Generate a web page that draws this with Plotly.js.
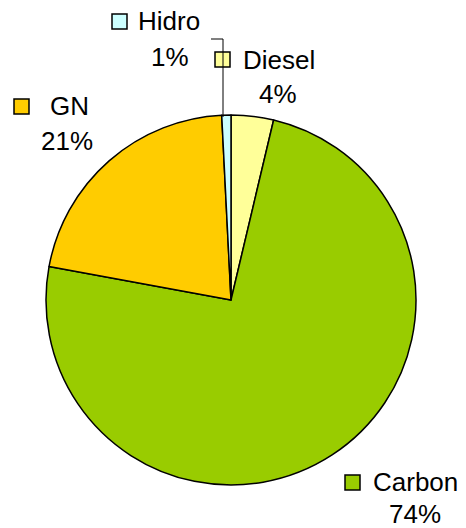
<!DOCTYPE html>
<html><head><meta charset="utf-8">
<script src="https://cdn.plot.ly/plotly-3.0.1.min.js"></script>
<style>html,body{margin:0;padding:0;background:#fff}#chart{width:466px;height:528px}</style>
</head><body><div id="chart"></div>
<script>
var categories = ["Diesel", "Carbon", "GN", "Hidro"];
var values = [3.7, 74.2, 21.3, 0.8];
var colors = ["#FFFF99", "#99CC00", "#FFCC00", "#CCFFFF"];

var W = 466, H = 528;
function px(x){return x / W;}
function py(y){return 1 - y / H;}
var total = values.reduce(function(a,b){return a+b;},0);
function pct(i){return Math.round(values[i] / total * 100) + "%";}

// label layout (pixel positions): square box, name, percent
var labelPos = {
  "Hidro":  {sq:[112,14], name:[136,21], pc:[170,57]},
  "Diesel": {sq:[215,52], name:[241,60], pc:[278,94]},
  "GN":     {sq:[14,99],  name:[48,106], pc:[67,141]},
  "Carbon": {sq:[345,475],name:[371,482],pc:[415,514]}
};

var annotations = [], shapes = [];
categories.forEach(function(c, i){
  var p = labelPos[c];
  var s = 15;
  shapes.push({type:"rect", xref:"paper", yref:"paper",
    x0:px(p.sq[0]), x1:px(p.sq[0]+s), y0:py(p.sq[1]+s), y1:py(p.sq[1]),
    fillcolor:colors[i], line:{color:"#000", width:1.5}});
  annotations.push({xref:"paper", yref:"paper", x:px(p.name[0]), y:py(p.name[1]),
    xanchor:"left", yanchor:"middle", showarrow:false, text:c,
    font:{family:"Liberation Sans, Arial", size:26, color:"#000"}});
  annotations.push({xref:"paper", yref:"paper", x:px(p.pc[0]), y:py(p.pc[1]),
    xanchor:"center", yanchor:"middle", showarrow:false, text:pct(i),
    font:{family:"Liberation Sans, Arial", size:26, color:"#000"}});
});
// leader line for Hidro
shapes.push({type:"line", xref:"paper", yref:"paper", x0:px(211), y0:py(39), x1:px(223), y1:py(39), line:{color:"#000", width:1}});
shapes.push({type:"line", xref:"paper", yref:"paper", x0:px(223), y0:py(39), x1:px(223), y1:py(117), line:{color:"#000", width:1}});

var trace = {
  type:"pie", labels:categories, values:values, sort:false,
  direction:"clockwise", rotation:0,
  marker:{colors:colors, line:{color:"#000", width:1.5}},
  textinfo:"none", hoverinfo:"label+percent",
  domain:{x:[px(46), px(416)], y:[py(485), py(115)]}
};

Plotly.newPlot("chart", [trace], {
  width:W, height:H, margin:{l:0,r:0,t:0,b:0},
  showlegend:false, paper_bgcolor:"#fff",
  annotations:annotations, shapes:shapes
}, {staticPlot:true});
</script></body></html>
